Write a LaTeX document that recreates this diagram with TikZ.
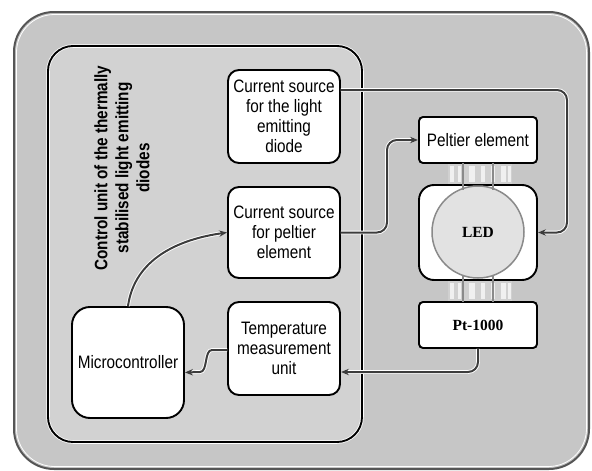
\documentclass[tikz,border=0pt]{standalone}
\usepackage{fontspec}
\setmainfont{Liberation Sans}[FakeStretch=0.85]
\newfontfamily\serifbf{Liberation Serif}
\usetikzlibrary{arrows.meta}
\definecolor{outerfill}{HTML}{C6C6C6}
\definecolor{innerfill}{HTML}{D2D2D2}
\definecolor{outerline}{HTML}{555555}
\definecolor{linec}{HTML}{3C3C3C}
\definecolor{ledfill}{HTML}{E2E2E2}
\definecolor{ledline}{HTML}{8A8A8A}
\definecolor{pinfill}{HTML}{D0D0D0}
\definecolor{pinbarc}{HTML}{F0F0F0}
\tikzset{
  boxtext/.style={font=\fontsize{18}{20}\selectfont, align=center, text=black},
  blockbox/.style={draw=black, line width=1.9pt, fill=white, rounded corners=11pt, inner sep=0pt, boxtext},
  conn/.style={draw=linec, line width=2pt, rounded corners=10pt,
     preaction={draw=white, line width=3.8pt},
     -{Stealth[length=8pt,width=6.5pt]}},
  pinbar/.style={fill=pinbarc, draw=none},
}
\begin{document}
\begin{tikzpicture}[x=1pt,y=-1pt]
\useasboundingbox (0,0) rectangle (592,471);
\fill[white] (0,0) rectangle (592,471);
% outer frame
\draw[fill=outerfill, draw=outerline, line width=2pt, rounded corners=40pt] (14,12) rectangle (589,469);
\draw[draw=white, line width=0.8pt, rounded corners=38pt] (16.5,14.5) rectangle (586.5,466.5);
% inner control unit
\draw[fill=innerfill, draw=white, line width=3.5pt, rounded corners=25pt] (48,46) rectangle (362,442);
\draw[draw=black, line width=1.9pt, rounded corners=25pt] (48,46) rectangle (362,442);
\node[rotate=90, align=center, font=\bfseries\fontsize{18}{21}\selectfont] (title) at (122,168)
  {Control unit of the thermally\\stabilised light emitting\\diodes};

% pins
\fill[pinfill] (448,163) rectangle (512,185);
\fill[pinfill] (448,280) rectangle (512,302);
\foreach \a/\b in {450/454,458/461,469/475,481/485,491/495,501/506,508/511}{
  \fill[pinbar] (\a,166) rectangle (\b,182);
  \fill[pinbar] (\a,283) rectangle (\b,299);
}

% blocks
\node[blockbox, minimum width=112pt, minimum height=93pt] (csl) at (284,116.5)
  {Current source\\for the light\\emitting\\diode};
\node[blockbox, minimum width=112pt, minimum height=91pt] (csp) at (284,232.5)
  {Current source\\for peltier\\element};
\node[blockbox, minimum width=112pt, minimum height=93pt] (tmu) at (284,348.5)
  {Temperature\\measurement\\unit};
\node[blockbox, minimum width=112pt, minimum height=111pt, rounded corners=18pt] (mc) at (128,362.5)
  {Microcontroller};
\node[blockbox, minimum width=118pt, minimum height=46pt, rounded corners=4pt] (pel) at (478,140)
  {Peltier element};
\node[blockbox, minimum width=118pt, minimum height=95pt, rounded corners=15pt] (ledbox) at (478,232.5) {};
\node[blockbox, minimum width=118pt, minimum height=46pt, rounded corners=4pt, font=\serifbf\bfseries\fontsize{15.5}{18}\selectfont] (pt) at (478,325)
  {Pt-1000};
\node[circle, draw=ledline, line width=1.5pt, fill=ledfill, minimum size=92pt, inner sep=0pt,
      font=\serifbf\bfseries\fontsize{15.5}{18}\selectfont] (led) at (478,232) {LED};
% wires into LED
\draw[ledline, line width=1.2pt] (463,163) -- (463,190);
\draw[ledline, line width=1.2pt] (493,163) -- (493,190);
\draw[ledline, line width=1.2pt] (463,275) -- (463,302);
\draw[ledline, line width=1.2pt] (493,275) -- (493,302);

% connectors
\coordinate (r1) at (567,90);
\coordinate (r2) at (567,232.5);
\draw[conn] ([yshift=26.5pt]csl.east) -- (r1) -- (r2) -- (ledbox.east);
\coordinate (p1) at (387,232.5);
\draw[conn] (csp.east) -- (p1) |- (pel.west);
\draw[conn] (pt.south) |- ([yshift=-23.5pt]tmu.east);
\coordinate (w1) at (212,350);
\draw[conn, rounded corners=0pt] ([yshift=-1.5pt]tmu.west) -- (w1) .. controls (204,350) and (208,372) .. (200,372) -- ([yshift=-10pt]mc.east);
\draw[conn] (mc.north) to[out=82, in=188] (csp.west);
\end{tikzpicture}
\end{document}
